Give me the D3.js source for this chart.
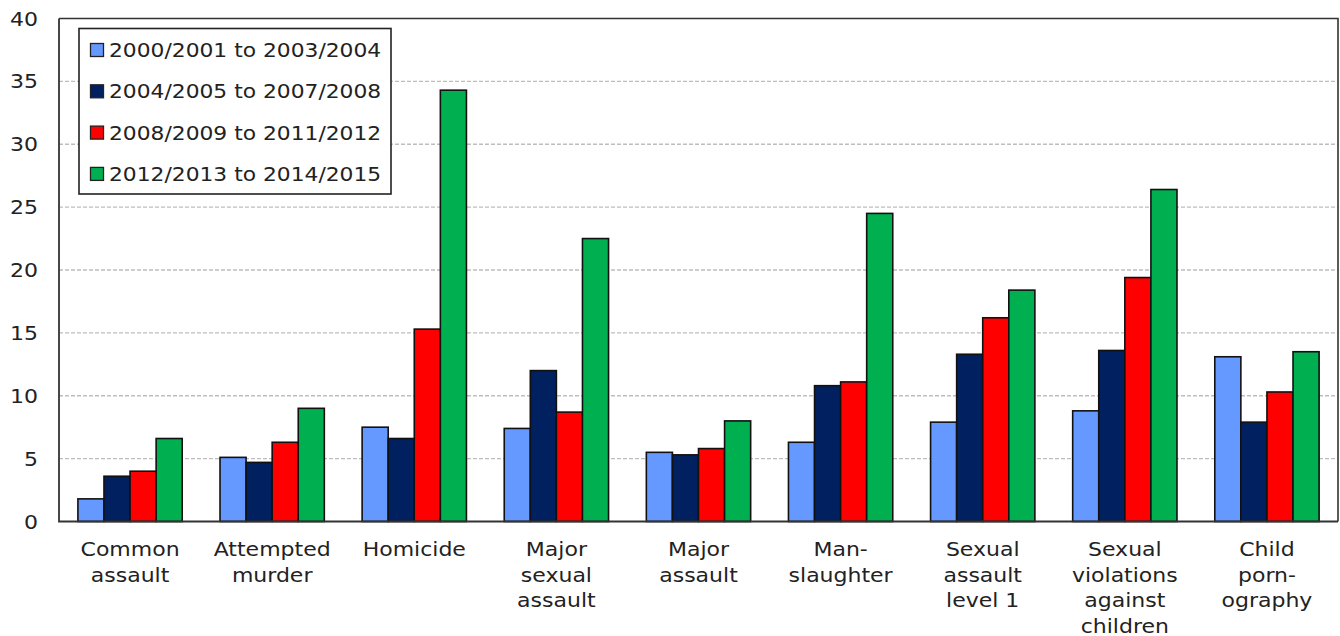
<!DOCTYPE html>
<html>
<head>
<meta charset="utf-8">
<script src="https://cdn.jsdelivr.net/npm/d3@7"></script>
<style>
  html, body { margin: 0; padding: 0; background: #fff; }
  svg { display: block; }
  text { font-family: "DejaVu Sans", Verdana, sans-serif; fill: #222; }
</style>
</head>
<body>
<svg id="chart" width="1340" height="636"></svg>
<script>
// Offence categories (multi-line labels)
const categories = [
  ["Common", "assault"],
  ["Attempted", "murder"],
  ["Homicide"],
  ["Major", "sexual", "assault"],
  ["Major", "assault"],
  ["Man-", "slaughter"],
  ["Sexual", "assault", "level 1"],
  ["Sexual", "violations", "against", "children"],
  ["Child", "porn-", "ography"]
];

// Reporting periods
const periods = [
  "2000/2001 to 2003/2004",
  "2004/2005 to 2007/2008",
  "2008/2009 to 2011/2012",
  "2012/2013 to 2014/2015"
];

// Values per period, one entry per category
const values2000 = [1.8, 5.1, 7.5, 7.4, 5.5, 6.3, 7.9, 8.8, 13.1];
const values2004 = [3.6, 4.7, 6.6, 12.0, 5.3, 10.8, 13.3, 13.6, 7.9];
const values2008 = [4.0, 6.3, 15.3, 8.7, 5.8, 11.1, 16.2, 19.4, 10.3];
const values2012 = [6.6, 9.0, 34.3, 22.5, 8.0, 24.5, 18.4, 26.4, 13.5];

const yTicks = [0, 5, 10, 15, 20, 25, 30, 35, 40];

const seriesValues = [values2000, values2004, values2008, values2012];
const colors = ["#6699ff", "#002060", "#ff0000", "#00b050"];

const svg = d3.select("#chart");
const plotLeft = 59, plotRight = 1338, plotTop = 18.5, plotBottom = 521.5;
const stretch = 1.1;

const x0 = d3.scaleBand()
  .domain(d3.range(categories.length))
  .range([plotLeft, plotRight])
  .paddingInner(0.266)
  .paddingOuter(0.133);

const x1 = d3.scaleBand()
  .domain(d3.range(periods.length))
  .range([0, x0.bandwidth()])
  .padding(0);

const y = d3.scaleLinear().domain([0, 40]).range([plotBottom, plotTop]);

// Gridlines
svg.append("g")
  .selectAll("line")
  .data(yTicks.filter(t => t > 0 && t < 40))
  .join("line")
  .attr("x1", plotLeft).attr("x2", plotRight)
  .attr("y1", d => y(d)).attr("y2", d => y(d))
  .attr("stroke", "#bdbdbd")
  .attr("stroke-width", 1.3)
  .attr("stroke-dasharray", "4,2");

// Frame (top and right)
svg.append("path")
  .attr("d", `M${plotLeft},${plotTop}H${plotRight}V${plotBottom}`)
  .attr("fill", "none")
  .attr("stroke", "#333")
  .attr("stroke-width", 1.6);

// Bars
const rows = categories.map((c, i) => ({ i, vals: seriesValues.map(s => s[i]) }));
svg.append("g")
  .selectAll("g")
  .data(rows)
  .join("g")
  .attr("transform", d => `translate(${x0(d.i)},0)`)
  .selectAll("rect")
  .data(d => d.vals.map((v, k) => ({ v, k })))
  .join("rect")
  .attr("x", d => x1(d.k))
  .attr("y", d => y(d.v))
  .attr("width", x1.bandwidth())
  .attr("height", d => y(0) - y(d.v))
  .attr("fill", d => colors[d.k])
  .attr("stroke", "#111")
  .attr("stroke-width", 1.6);

// Axis lines (left and bottom)
svg.append("path")
  .attr("d", `M${plotLeft},${plotTop}V${plotBottom}H${plotRight}`)
  .attr("fill", "none")
  .attr("stroke", "#333")
  .attr("stroke-width", 1.8);

// Y tick labels
svg.append("g")
  .selectAll("text")
  .data(yTicks)
  .join("text")
  .attr("transform", d => `translate(38,${y(d) + 7}) scale(${stretch},1)`)
  .attr("text-anchor", "end")
  .style("font-size", "20px")
  .text(d => d);

// Category labels
const catG = svg.append("g")
  .selectAll("g")
  .data(categories)
  .join("g")
  .attr("transform", (d, i) => `translate(${x0(i) + x0.bandwidth() / 2},0)`);
catG.selectAll("text")
  .data(d => d)
  .join("text")
  .attr("transform", (d, j) => `translate(0,${556 + j * 25.6}) scale(${stretch},1)`)
  .attr("text-anchor", "middle")
  .style("font-size", "20px")
  .text(d => d);

// Legend
const legend = svg.append("g");
legend.append("rect")
  .attr("x", 79).attr("y", 28.5)
  .attr("width", 312).attr("height", 165.5)
  .attr("fill", "#fff")
  .attr("stroke", "#222")
  .attr("stroke-width", 1.6);
const items = legend.selectAll("g.item")
  .data(periods)
  .join("g")
  .attr("class", "item")
  .attr("transform", (d, i) => `translate(0,${50 + i * 41.3})`);
items.append("rect")
  .attr("x", 90.5).attr("y", -6.5)
  .attr("width", 13).attr("height", 13)
  .attr("fill", (d, i) => colors[i])
  .attr("stroke", "#222")
  .attr("stroke-width", 1.3);
items.append("text")
  .attr("transform", `translate(109,7) scale(1.09,1)`)
  .style("font-size", "20px")
  .text(d => d);
</script>
</body>
</html>
